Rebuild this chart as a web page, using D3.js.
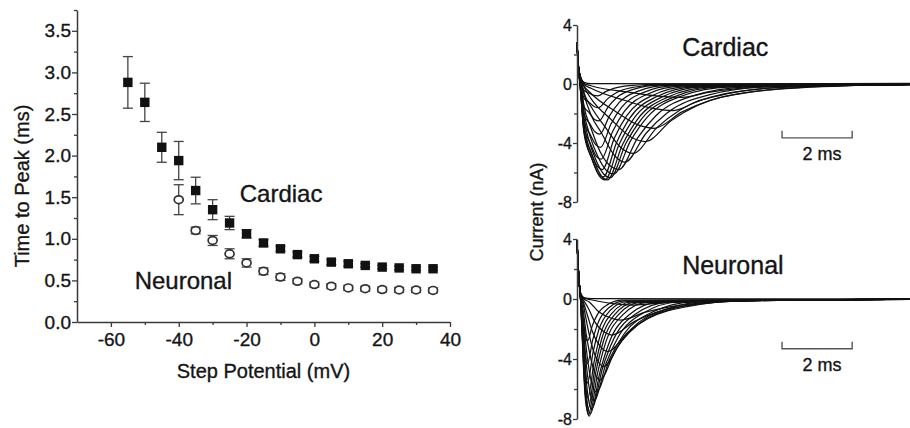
<!DOCTYPE html>
<html><head><meta charset="utf-8">
<script src="https://cdn.jsdelivr.net/npm/d3@7"></script>
<style>
body{margin:0;background:#fff}
svg{display:block}
text{font-family:"Liberation Sans",Arial,Helvetica,sans-serif;fill:#151515;stroke:#151515;stroke-width:0.35px}
</style>
</head><body>
<svg id="chart" width="910" height="428"></svg>
<script>
// ---------- Left panel data ----------
const cardiacPotentials = [-55,-50,-45,-40,-35,-30,-25,-20,-15,-10,-5,0,5,10,15,20,25,30,35];
const cardiacTTP = [2.88,2.64,2.10,1.94,1.58,1.35,1.19,1.06,0.95,0.88,0.81,0.76,0.72,0.70,0.68,0.66,0.65,0.64,0.64];
const cardiacErr = [0.31,0.23,0.18,0.23,0.16,0.12,0.08,0.05,0.04,0.03,0.03,0.03,0.03,0.03,0.02,0.02,0.02,0.02,0.02];
const neuronalPotentials = [-40,-35,-30,-25,-20,-15,-10,-5,0,5,10,15,20,25,30,35];
const neuronalTTP = [1.47,1.10,0.98,0.82,0.71,0.61,0.54,0.49,0.45,0.43,0.41,0.40,0.39,0.385,0.385,0.38];
const neuronalErr = [0.18,0.04,0.06,0.06,0.05,0.04,0.04,0.03,0.03,0.03,0.03,0.03,0.03,0.03,0.03,0.03];
const xTicksMajor = [-60,-40,-20,0,20,40];
const xTicksMinor = [-50,-30,-10,10,30];
const yTicksMajor = [0,0.5,1.0,1.5,2.0,2.5,3.0,3.5];
const yTicksMinor = [0.25,0.75,1.25,1.75,2.25,2.75,3.25,3.75];
const leftLabels = [{text:"Cardiac", mv:-22, ms:1.44},{text:"Neuronal", mv:-53, ms:0.40}];

// ---------- Right panels data (current traces, [time ms, current nA]) ----------
const currentTicksMajor = [4,0,-4,-8];
const currentTicksMinor = [2,-2,-6];
const cardiacTransient = [[0,2.8],[0.04,1.2]];
const cardiacTraces = [
 [[0.1,0.5],[0.2,0.12],[0.4,0.02],[9.5,0]],
 [[0.1,0.48],[0.2,0.05],[0.4,-0.12],[1.5,-0.56],[2.4,-0.84],[3.0,-0.9],[3.75,-0.57],[4.5,-0.33],[6.0,-0.13],[8.25,-0.05],[9.5,-0.03]],
 [[0.1,0.46],[0.2,-0.02],[0.4,-0.29],[1.38,-1.12],[2.2,-1.67],[2.75,-1.8],[3.48,-1.13],[4.2,-0.67],[5.65,-0.25],[7.83,-0.07],[9.5,-0.04]],
 [[0.1,0.44],[0.2,-0.12],[0.4,-0.64],[1.1,-1.86],[1.76,-2.79],[2.2,-3.0],[3.0,-1.89],[3.8,-1.11],[5.4,-0.42],[7.8,-0.11],[9.5,-0.05]],
 [[0.1,0.42],[0.2,-0.19],[0.4,-0.99],[0.98,-2.42],[1.56,-3.63],[1.95,-3.9],[2.7,-2.46],[3.45,-1.44],[4.95,-0.55],[7.2,-0.14],[9.5,-0.05]],
 [[0.1,0.41],[0.2,-0.59],[0.4,-1.53],[0.8,-2.91],[1.28,-4.37],[1.6,-4.7],[2.28,-2.96],[2.95,-1.74],[4.3,-0.66],[6.33,-0.16],[9.5,-0.04]],
 [[0.1,0.39],[0.2,-0.68],[0.4,-2.1],[0.69,-3.29],[1.1,-4.93],[1.37,-5.3],[1.97,-3.34],[2.57,-1.96],[3.77,-0.74],[5.57,-0.18],[9.5,-0.04]],
 [[0.1,0.15],[0.2,-1.5],[0.4,-3.0],[0.66,-4.59],[0.96,-5.57],[1.2,-5.8],[1.73,-3.65],[2.25,-2.15],[3.3,-0.81],[4.88,-0.19],[9.5,-0.03]],
 [[0.1,0.01],[0.2,-1.89],[0.38,-3.6],[0.58,-4.83],[0.84,-5.86],[1.05,-6.1],[1.53,-3.84],[2.0,-2.26],[2.95,-0.85],[4.38,-0.2],[9.5,-0.03]],
 [[0.1,-0.13],[0.2,-2.29],[0.35,-3.9],[0.52,-5.03],[0.76,-6.1],[0.95,-6.35],[1.4,-4.0],[1.85,-2.35],[2.75,-0.89],[4.1,-0.2],[9.5,-0.03]],
 [[0.1,-0.28],[0.2,-2.68],[0.48,-5.15],[0.7,-6.24],[0.87,-6.5],[1.3,-4.1],[1.72,-2.41],[2.57,-0.91],[3.85,-0.2],[9.5,-0.02]],
 [[0.1,-0.41],[0.2,-3.13],[0.44,-5.15],[0.64,-6.24],[0.8,-6.5],[1.2,-4.1],[1.6,-2.41],[2.4,-0.91],[3.6,-0.2],[9.5,-0.02]],
 [[0.1,-0.44],[0.2,-3.35],[0.41,-4.99],[0.6,-6.05],[0.75,-6.3],[1.13,-3.97],[1.5,-2.33],[2.25,-0.88],[3.38,-0.19],[9.5,-0.02]],
 [[0.1,-0.43],[0.2,-3.19],[0.4,-4.59],[0.58,-5.57],[0.72,-5.8],[1.07,-3.65],[1.42,-2.15],[2.12,-0.81],[3.17,-0.17],[9.5,-0.02]],
 [[0.1,-0.32],[0.2,-2.94],[0.38,-4.03],[0.55,-4.9],[0.69,-5.1],[1.02,-3.21],[1.34,-1.89],[1.99,-0.71],[2.97,-0.15],[9.5,-0.01]],
 [[0.1,-0.19],[0.2,-2.55],[0.37,-3.39],[0.54,-4.13],[0.67,-4.3],[0.97,-2.71],[1.27,-1.59],[1.87,-0.6],[2.77,-0.13],[9.5,-0.01]],
 [[0.1,-0.04],[0.2,-2.06],[0.36,-2.67],[0.52,-3.26],[0.65,-3.4],[0.93,-2.14],[1.2,-1.26],[1.75,-0.48],[2.58,-0.1],[9.5,0]],
 [[0.1,0.1],[0.2,-1.53],[0.35,-1.95],[0.5,-2.4],[0.63,-2.5],[0.88,-1.58],[1.13,-0.93],[1.63,-0.35],[2.38,-0.08],[9.5,0.02]],
 [[0.1,0.24],[0.2,-0.97],[0.34,-1.23],[0.5,-1.54],[0.62,-1.6],[0.87,-1.01],[1.12,-0.59],[1.62,-0.22],[2.37,-0.05],[9.5,0.03]],
 [[0.1,0.37],[0.2,-0.44],[0.33,-0.59],[0.48,-0.77],[0.6,-0.8],[0.83,-0.5],[1.05,-0.3],[1.5,-0.11],[2.18,-0.02],[9.5,0.04]]
];
const neuronalTransient = [[0,3.9],[0.05,1.5]];
const neuronalTraces = [
 [[0.1,0.4],[0.2,0.1],[0.4,0.02],[9.5,0]],
 [[0.1,0.4],[0.18,0.08],[0.4,-0.05],[1.0,-0.3],[1.6,-0.4],[2.5,-0.25],[4.0,-0.08],[9.5,-0.02]],
 [[0.1,0.4],[0.18,0.05],[0.35,-0.2],[0.63,-0.87],[1.0,-1.3],[1.25,-1.4],[1.95,-0.88],[2.65,-0.52],[4.05,-0.2],[6.15,-0.05],[9.5,-0.03]],
 [[0.1,0.35],[0.18,-0.05],[0.32,-0.6],[0.5,-1.49],[0.8,-2.23],[1.0,-2.4],[1.63,-1.51],[2.25,-0.89],[3.5,-0.34],[5.38,-0.08],[9.5,-0.03]],
 [[0.1,0.33],[0.18,-0.2],[0.3,-1.1],[0.44,-2.17],[0.7,-3.26],[0.88,-3.5],[1.46,-2.2],[2.03,-1.3],[3.18,-0.49],[4.9,-0.1],[9.5,-0.02]],
 [[0.1,0.3],[0.18,-0.4],[0.28,-1.6],[0.4,-2.9],[0.61,-4.2],[0.76,-4.5],[1.26,-2.84],[1.76,-1.67],[2.76,-0.63],[4.26,-0.14],[9.5,-0.02]],
 [[0.1,0.25],[0.18,-0.8],[0.26,-2.3],[0.36,-3.6],[0.52,-5.0],[0.65,-5.4],[1.1,-3.4],[1.55,-2.0],[2.45,-0.76],[3.8,-0.16],[9.5,-0.01]],
 [[0.1,0.2],[0.18,-1.3],[0.25,-3.0],[0.33,-4.5],[0.44,-5.8],[0.55,-6.2],[0.95,-3.9],[1.35,-2.3],[2.15,-0.87],[3.35,-0.19],[9.5,-0.01]],
 [[0.1,0.15],[0.18,-1.8],[0.24,-3.7],[0.3,-5.1],[0.39,-6.4],[0.48,-6.8],[0.83,-4.28],[1.18,-2.52],[1.88,-0.95],[2.93,-0.2],[9.5,-0.01]],
 [[0.1,0.1],[0.18,-2.3],[0.23,-4.2],[0.28,-5.8],[0.35,-6.95],[0.42,-7.3],[0.73,-4.6],[1.04,-2.7],[1.66,-1.02],[2.59,-0.22],[9.5,0]],
 [[0.1,0.05],[0.17,-2.6],[0.22,-4.8],[0.27,-6.4],[0.32,-7.35],[0.38,-7.65],[0.66,-4.82],[0.93,-2.83],[1.48,-1.07],[2.31,-0.23],[9.5,0]],
 [[0.1,0.0],[0.16,-2.8],[0.2,-4.9],[0.25,-6.7],[0.3,-7.5],[0.35,-7.8],[0.59,-4.91],[0.82,-2.89],[1.29,-1.09],[2.0,-0.23],[9.5,0]],
 [[0.1,0.0],[0.15,-2.6],[0.19,-4.8],[0.24,-6.7],[0.285,-7.4],[0.33,-7.7],[0.54,-4.85],[0.75,-2.85],[1.17,-1.08],[1.8,-0.23],[9.5,0]],
 [[0.1,0.02],[0.15,-2.4],[0.19,-4.5],[0.24,-6.3],[0.28,-7.0],[0.32,-7.3],[0.51,-4.6],[0.7,-2.7],[1.08,-1.02],[1.65,-0.22],[9.5,0]],
 [[0.1,0.05],[0.15,-2.1],[0.19,-4.0],[0.24,-5.7],[0.27,-6.3],[0.31,-6.6],[0.49,-4.16],[0.66,-2.44],[1.01,-0.92],[1.54,-0.2],[9.5,0]],
 [[0.1,0.08],[0.15,-1.8],[0.19,-3.4],[0.23,-4.7],[0.26,-5.3],[0.3,-5.6],[0.46,-3.53],[0.62,-2.07],[0.94,-0.78],[1.42,-0.17],[9.5,0]],
 [[0.1,0.12],[0.15,-1.3],[0.19,-2.6],[0.23,-3.6],[0.26,-4.1],[0.3,-4.3],[0.45,-2.71],[0.6,-1.59],[0.9,-0.6],[1.35,-0.13],[9.5,0]],
 [[0.1,0.2],[0.15,-0.8],[0.19,-1.7],[0.23,-2.35],[0.26,-2.65],[0.3,-2.8],[0.44,-1.76],[0.58,-1.04],[0.86,-0.39],[1.28,-0.08],[9.5,0]]
];
const scaleBarStartMs = 5.85, scaleBarLengthMs = 2, scaleBarLabel = "2 ms";
const panels = [
 {name:"Cardiac", transient:cardiacTransient, traces:cardiacTraces, top:25, bottom:202, barLevel:-3.65, labelMs:3.0, labelNa:1.9},
 {name:"Neuronal", transient:neuronalTransient, traces:neuronalTraces, top:239, bottom:419, barLevel:-3.32, labelMs:3.0, labelNa:1.69}
];

const svg = d3.select("#chart");
const axisColor = "#3a3a3a";

function styleAxis(g, fs){
  g.select(".domain").attr("stroke", axisColor).attr("stroke-width", 1.5);
  g.selectAll(".tick line").attr("stroke", axisColor).attr("stroke-width", 1.3);
  g.selectAll(".tick text").attr("fill","#151515").style("font-size", fs+"px")
    .style("font-family","'Liberation Sans',Arial,sans-serif");
}

// ---------- Left panel ----------
const x = d3.scaleLinear().domain([-70,40]).range([77,450]);
const y = d3.scaleLinear().domain([0,3.75]).range([322,10]);

const gx = svg.append("g").attr("transform",`translate(0,${y(0)})`)
  .call(d3.axisBottom(x).tickValues(xTicksMajor).tickSize(5).tickSizeOuter(0).tickPadding(6).tickFormat(d=>String(d)));
styleAxis(gx, 19);
const gxm = svg.append("g").attr("transform",`translate(0,${y(0)})`)
  .call(d3.axisBottom(x).tickValues(xTicksMinor).tickSize(3).tickSizeOuter(0).tickFormat(""));
styleAxis(gxm, 19); gxm.select(".domain").remove();

const gy = svg.append("g").attr("transform",`translate(${x(-70)},0)`)
  .call(d3.axisLeft(y).tickValues(yTicksMajor).tickSize(5).tickSizeOuter(0).tickPadding(1).tickFormat(d3.format(".1f")));
styleAxis(gy, 19);
const gym = svg.append("g").attr("transform",`translate(${x(-70)},0)`)
  .call(d3.axisLeft(y).tickValues(yTicksMinor).tickSize(3).tickSizeOuter(0).tickFormat(""));
styleAxis(gym, 19); gym.select(".domain").remove();

svg.append("text").attr("x",(x(-70)+x(40))/2).attr("y",378).attr("text-anchor","middle")
  .style("font-size","20px").text("Step Potential (mV)");
svg.append("text").attr("transform",`translate(29,${(y(0)+y(3.75))/2+20}) rotate(-90)`).attr("text-anchor","middle")
  .style("font-size","20px").text("Time to Peak (ms)");

const errColor = "#444";
function errorBars(xs, ys, es){
  const g = svg.append("g").attr("stroke", errColor).attr("stroke-width",1.3).attr("fill","none");
  xs.forEach((v,i)=>{
    const cx = x(v), y1 = y(ys[i]+es[i]), y2 = y(ys[i]-es[i]);
    g.append("line").attr("x1",cx).attr("x2",cx).attr("y1",y1).attr("y2",y2);
    g.append("line").attr("x1",cx-5).attr("x2",cx+5).attr("y1",y1).attr("y2",y1);
    g.append("line").attr("x1",cx-5).attr("x2",cx+5).attr("y1",y2).attr("y2",y2);
  });
}
errorBars(neuronalPotentials, neuronalTTP, neuronalErr);
errorBars(cardiacPotentials, cardiacTTP, cardiacErr);

svg.append("g").selectAll("ellipse").data(neuronalPotentials).join("ellipse")
  .attr("cx",(d)=>x(d)).attr("cy",(d,i)=>y(neuronalTTP[i])).attr("rx",4.5).attr("ry",3.9)
  .attr("fill","#fff").attr("stroke","#333").attr("stroke-width",1.7);
svg.append("g").selectAll("rect").data(cardiacPotentials).join("rect")
  .attr("x",d=>x(d)-4.7).attr("y",(d,i)=>y(cardiacTTP[i])-4.7).attr("width",9.4).attr("height",9.4)
  .attr("fill","#111");

leftLabels.forEach(l=>{
  svg.append("text").attr("x",x(l.mv)).attr("y",y(l.ms)).style("font-size","24px").text(l.text);
});

// ---------- Right panels ----------
const t = d3.scaleLinear().domain([0,9.5]).range([577,910]);
panels.forEach(p=>{
  const yc = d3.scaleLinear().domain([-8,4]).range([p.bottom,p.top]);
  const line = d3.line().x(d=>t(d[0])).y(d=>yc(d[1])).curve(d3.curveMonotoneX);
  svg.append("g").selectAll("path").data(p.traces).join("path")
    .attr("d", d=>line(p.transient.concat(d)))
    .attr("fill","none").attr("stroke","#111").attr("stroke-width",1.25);
  const ga = svg.append("g").attr("transform",`translate(${t(0)},0)`)
    .call(d3.axisLeft(yc).tickValues(currentTicksMajor).tickSize(4).tickSizeOuter(0).tickPadding(1).tickFormat(d=>String(d)));
  styleAxis(ga, 16);
  const gam = svg.append("g").attr("transform",`translate(${t(0)},0)`)
    .call(d3.axisLeft(yc).tickValues(currentTicksMinor).tickSize(3).tickSizeOuter(0).tickFormat(""));
  styleAxis(gam, 16); gam.select(".domain").remove();
  // scale bar
  const bx1 = t(scaleBarStartMs), bx2 = t(scaleBarStartMs+scaleBarLengthMs), by = yc(p.barLevel);
  svg.append("path").attr("d",`M${bx1},${by-7}V${by}H${bx2}V${by-7}`)
    .attr("fill","none").attr("stroke","#555").attr("stroke-width",1.4);
  svg.append("text").attr("x",(bx1+bx2)/2+5).attr("y",by+22).attr("text-anchor","middle")
    .style("font-size","18px").text(scaleBarLabel);
  svg.append("text").attr("x",t(p.labelMs)).attr("y",yc(p.labelNa)).style("font-size","25px").text(p.name);
});
svg.append("text").attr("transform",`translate(543,212) rotate(-90)`).attr("text-anchor","middle")
  .style("font-size","18px").text("Current (nA)");
</script>
</body></html>
